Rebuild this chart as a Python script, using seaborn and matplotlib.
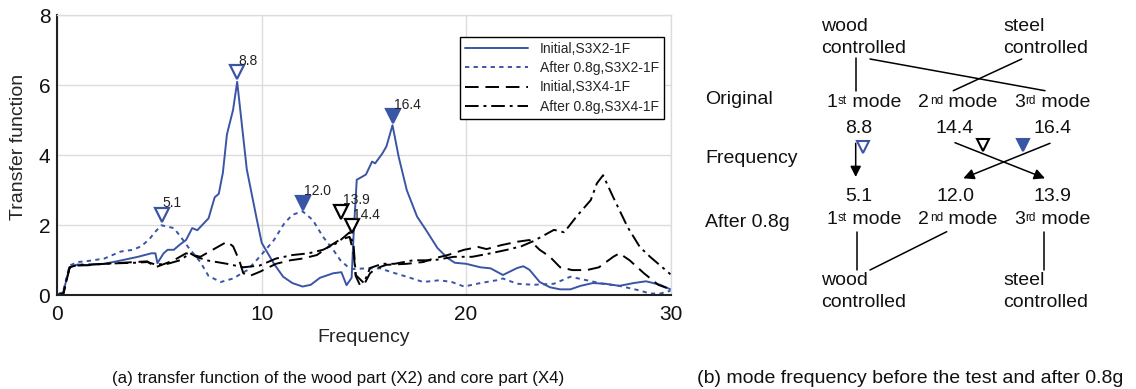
import numpy as np
import pandas as pd
import matplotlib
matplotlib.use("Agg")
import matplotlib.pyplot as plt
import seaborn as sns

# ---- transfer function curves -------------------------------------------
# Initial, S3X2-1F (wood part, before test)
freq_init_x2 = [0, 0.3, 0.6, 1.0, 1.5, 2.3, 3.15, 3.95, 4.6, 4.8, 4.9, 5.2, 5.4, 5.7,
                6.0, 6.3, 6.6, 6.85, 7.4, 7.7, 7.9, 8.1, 8.3, 8.6, 8.8, 9.27, 9.75,
                10.0, 10.6, 11.05, 11.5, 12.0, 12.4, 12.85, 13.5, 13.9, 14.15, 14.4,
                14.5, 14.65, 15.1, 15.4, 15.55, 15.9, 16.1, 16.4, 16.7, 17.1, 17.6,
                18.0, 18.6, 19.1, 19.45, 20.0, 20.7, 21.2, 21.8, 22.5, 22.8, 23.1,
                23.6, 24.1, 24.6, 25.1, 25.6, 26.2, 26.8, 27.5, 28.2, 28.8, 29.5, 30]
tf_init_x2 = [0, 0.1, 0.8, 0.88, 0.86, 0.9, 1.0, 1.1, 1.2, 1.2, 0.92, 1.2, 1.3, 1.3,
              1.45, 1.58, 1.92, 1.86, 2.2, 2.8, 2.9, 3.5, 4.6, 5.3, 6.1, 3.6, 2.2,
              1.5, 0.9, 0.53, 0.35, 0.25, 0.3, 0.5, 0.63, 0.66, 0.29, 0.5,
              1.78, 3.3, 3.45, 3.82, 3.77, 4.05, 4.25, 4.86, 3.96, 3.0, 2.25,
              1.9, 1.35, 1.06, 0.93, 0.9, 0.8, 0.77, 0.58, 0.78, 0.83, 0.73,
              0.38, 0.23, 0.17, 0.17, 0.27, 0.35, 0.33, 0.27, 0.35, 0.4, 0.3, 0.17]

# After 0.8g, S3X2-1F
freq_after_x2 = [0, 0.3, 0.6, 1.0, 1.5, 2.3, 3.1, 3.7, 4.1, 4.5, 4.8, 5.1, 5.7, 6.0,
                 6.4, 7.0, 7.4, 8.0, 8.6, 9.3, 9.9, 10.6, 11.1, 11.5, 12.0, 12.5,
                 13.0, 13.5, 13.85, 14.2, 14.5, 15.1, 15.8, 16.3, 17.1, 17.9, 18.7,
                 19.3, 19.9, 20.7, 21.5, 21.8, 22.5, 23.3, 24.3, 25.1, 25.9, 26.7,
                 27.5, 28.4, 29.0, 29.5, 30]
tf_after_x2 = [0, 0.15, 0.85, 0.95, 0.98, 1.05, 1.25, 1.3, 1.4, 1.6, 1.82, 2.0, 1.92, 1.7,
               1.38, 0.95, 0.55, 0.38, 0.48, 0.72, 1.1, 1.58, 2.05, 2.3, 2.4, 2.15,
               1.67, 1.3, 1.0, 0.82, 0.75, 0.77, 0.77, 0.67, 0.53, 0.38, 0.43,
               0.38, 0.25, 0.35, 0.43, 0.48, 0.33, 0.3, 0.33, 0.53, 0.43, 0.33,
               0.27, 0.15, 0.05, 0.05, 0.13]

# Initial, S3X4-1F (core part, before test)
freq_init_x4 = [0, 0.3, 0.6, 1.0, 1.5, 2.3, 3.2, 3.8, 4.4, 4.8, 5.25, 5.7, 6.3, 7.0,
                7.6, 8.3, 8.6, 8.9, 9.1, 9.4, 9.9, 10.7, 11.4, 12.0, 12.7, 13.3,
                13.8, 14.3, 14.5, 14.6, 14.8, 15.0, 15.3, 15.6, 16.1, 17.1, 17.9,
                18.4, 19.1, 19.9, 20.6, 21.0, 21.7, 22.5, 23.1, 23.6, 24.1, 24.6,
                25.2, 25.9, 26.5, 27.2, 27.5, 28.0, 28.7, 29.4, 30]
tf_init_x4 = [0, 0.05, 0.78, 0.85, 0.86, 0.9, 0.93, 0.95, 0.97, 0.8, 0.9, 1.0, 1.2, 1.1,
              1.3, 1.53, 1.4, 1.0, 0.63, 0.55, 0.67, 0.9, 1.0, 1.05, 1.15, 1.4,
              1.58, 1.67, 1.2, 0.55, 0.3, 0.3, 0.63, 0.77, 0.87, 0.9, 0.95,
              1.05, 1.15, 1.3, 1.38, 1.32, 1.43, 1.53, 1.58, 1.3, 1.1, 0.8,
              0.72, 0.72, 0.8, 1.1, 1.2, 1.0, 0.63, 0.3, 0.17]

# After 0.8g, S3X4-1F
freq_after_x4 = [0, 0.3, 0.6, 1.0, 1.5, 2.3, 3.2, 3.8, 4.4, 4.8, 5.4, 6.0, 6.5, 6.8,
                 7.3, 8.3, 9.1, 9.9, 10.7, 11.5, 12.3, 13.0, 13.7, 14.1, 14.3, 14.5,
                 14.6, 15.0, 15.3, 15.9, 16.5, 17.4, 18.4, 19.4, 20.3, 21.2, 22.0,
                 22.7, 23.3, 24.3, 24.8, 25.4, 26.1, 26.4, 26.7, 27.2, 27.9, 28.5,
                 29.0, 30]
tf_after_x4 = [0, 0.05, 0.8, 0.87, 0.88, 0.9, 0.92, 0.93, 0.95, 0.88, 0.9, 1.0, 1.2, 1.1,
               1.0, 0.9, 0.8, 0.85, 1.05, 1.15, 1.2, 1.3, 1.5, 1.7, 1.8, 1.4,
               0.58, 0.35, 0.78, 0.9, 0.9, 1.0, 1.0, 1.1, 1.1, 1.2, 1.3,
               1.4, 1.55, 1.87, 1.8, 2.25, 2.72, 3.2, 3.43, 2.8, 1.95, 1.38,
               1.1, 0.6]

series_names = ["Initial,S3X2-1F", "After 0.8g,S3X2-1F",
                "Initial,S3X4-1F", "After 0.8g,S3X4-1F"]

# ---- identified mode frequencies ----------------------------------------
mode_freqs = [8.8, 16.4, 14.4, 5.1, 12.0, 13.9]
mode_series = ["Initial,S3X2-1F", "Initial,S3X2-1F", "Initial,S3X4-1F",
               "After 0.8g,S3X2-1F", "After 0.8g,S3X2-1F", "After 0.8g,S3X4-1F"]
mode_filled = [False, True, False, False, True, False]
mode_blue = [True, True, False, True, True, False]
# vertical gap between each peak and its marker (data units)
mode_gap = [0.27, 0.25, 0.3, 0.3, 0.25, 0.68]

# mode table of panel (b): original order and the mode each one moves to
orig_freqs = [8.8, 14.4, 16.4]
after_freqs = [5.1, 12.0, 13.9]
orig_to_after = [0, 2, 1]
orig_marker_blue = [True, False, True]
orig_marker_filled = [False, False, True]
ordinals = [("1", "st"), ("2", "nd"), ("3", "rd")]

BLUE = "#3B55A6"

sns.set_theme(style="white")
plt.rcParams["font.family"] = ["Liberation Sans", "DejaVu Sans"]

frames = []
for name, f, v in zip(series_names,
                      [freq_init_x2, freq_after_x2, freq_init_x4, freq_after_x4],
                      [tf_init_x2, tf_after_x2, tf_init_x4, tf_after_x4]):
    frames.append(pd.DataFrame({"Frequency": f, "TF": v, "series": name}))
df = pd.concat(frames, ignore_index=True)

palette = {series_names[0]: BLUE, series_names[1]: BLUE,
           series_names[2]: "black", series_names[3]: "black"}
dashes = {series_names[0]: "", series_names[1]: (2.2, 2.2),
          series_names[2]: (7, 3.5), series_names[3]: (7, 2.5, 1.5, 2.5)}

fig = plt.figure(figsize=(11.36, 3.89), dpi=100)
ax = fig.add_axes([57.3 / 1136, 1 - 295.3 / 389, 613.2 / 1136, 280 / 389])

sns.lineplot(data=df, x="Frequency", y="TF", hue="series", style="series",
             hue_order=series_names, style_order=series_names,
             palette=palette, dashes=dashes, estimator=None, sort=False,
             linewidth=1.4, ax=ax)

ax.set_xlim(0, 30)
ax.set_ylim(0, 8)
ax.set_xticks([0, 10, 20, 30])
ax.set_yticks([0, 2, 4, 6, 8])
ax.grid(True, color="#dcdcdc", linewidth=1.0)
ax.set_axisbelow(True)
for side in ["top", "right"]:
    ax.spines[side].set_color("#dcdcdc")
    ax.spines[side].set_linewidth(1.0)
for side in ["left", "bottom"]:
    ax.spines[side].set_color("#222222")
    ax.spines[side].set_linewidth(1.5)
ax.tick_params(axis="both", length=0, labelsize=15, colors="#111111")
ax.tick_params(axis="x", pad=7)
ax.tick_params(axis="y", pad=5)

ax.set_xlabel("Frequency", fontsize=14)
ax.xaxis.label.set_va("center")
ax.xaxis.set_label_coords(0.5, (295.3 - 338) / 280)
ax.set_ylabel("Transfer function", fontsize=14)
ax.yaxis.label.set_va("center")
ax.yaxis.set_label_coords((18.5 - 57.3) / 613.2, 0.53)

# mode markers above the peaks
curves = {n: (np.asarray(f), np.asarray(v)) for n, f, v in zip(
    series_names,
    [freq_init_x2, freq_after_x2, freq_init_x4, freq_after_x4],
    [tf_init_x2, tf_after_x2, tf_init_x4, tf_after_x4])}
for fq, sname, filled, blue, gap in zip(mode_freqs, mode_series, mode_filled,
                                        mode_blue, mode_gap):
    fx, fv = curves[sname]
    near = np.abs(fx - fq) <= 0.35
    top = fv[near].max() if near.any() else np.interp(fq, fx, fv)
    ym = top + gap
    col = BLUE if blue else "black"
    ax.plot([fq], [ym], marker="v", ms=10, mew=1.6, mec=col,
            mfc=col if filled else "white", linestyle="none", zorder=5)
    ax.annotate(f"{fq:.1f}", (fq, ym), xytext=(1, 8.5), textcoords="offset points",
                ha="left", va="center", fontsize=10, color="#222222", zorder=7)

handles, labels = ax.get_legend_handles_labels()
leg = ax.legend(handles, labels, loc="upper right",
                bbox_to_anchor=((664 - 57.3) / 613.2, (295.3 - 37) / 280),
                fontsize=10, frameon=True, fancybox=False, edgecolor="black",
                framealpha=1, handlelength=4.5, handletextpad=0.9,
                labelspacing=0.38, borderpad=0.35, borderaxespad=0)
leg.get_frame().set_linewidth(1.0)

fig.text(338 / 1136, 1 - 382.7 / 389,
         "(a) transfer function of the wood part (X2) and core part (X4)",
         ha="center", va="baseline", fontsize=12.2, color="#111111")

# ---- panel (b): mode frequency diagram ------------------------------------
axb = fig.add_axes([690 / 1136, 0, 446 / 1136, 1])
axb.set_xlim(690, 1136)
axb.set_ylim(389, 0)
axb.axis("off")

fs = 14
tc = "#111111"
col_x = [858.3, 955.0, 1052.3]
mode_x = [826, 918, 1014]


def mode_label(x, baseline, digit, suffix):
    """Ordinal with a small raised suffix followed by ' mode'."""
    t1 = axb.text(x, baseline, digit, fontsize=fs, va="baseline", color=tc)
    t2 = axb.annotate(suffix, xy=(1, 0.93), xycoords=t1, xytext=(0.6, 0),
                      textcoords="offset points", ha="left", va="top",
                      fontsize=8.5, color=tc)
    axb.annotate(" mode", xy=(1, baseline), xycoords=(t2, "data"),
                 ha="left", va="baseline", fontsize=fs, color=tc)


for xx, word in [(821, "wood"), (1003.3, "steel")]:
    axb.text(xx, 30.7, word, fontsize=fs, va="baseline", color=tc)
    axb.text(xx, 52.7, "controlled", fontsize=fs, va="baseline", color=tc)
    axb.text(xx, 285, word, fontsize=fs, va="baseline", color=tc)
    axb.text(xx, 306.7, "controlled", fontsize=fs, va="baseline", color=tc)

axb.text(705, 104.3, "Original", fontsize=fs, va="baseline", color=tc)
axb.text(705, 163.3, "Frequency", fontsize=fs, va="baseline", color=tc)
axb.text(705, 226.7, "After 0.8g", fontsize=fs, va="baseline", color=tc)

for i in range(3):
    mode_label(mode_x[i], 106.7, *ordinals[i])
    mode_label(mode_x[i], 224.0, *ordinals[i])
    axb.text(col_x[i], 132.7, f"{orig_freqs[i]:.1f}", fontsize=fs, ha="center",
             va="baseline", color=tc)
    axb.text(col_x[i], 201.0, f"{after_freqs[i]:.1f}", fontsize=fs, ha="center",
             va="baseline", color=tc)

# connecting lines: controlling part of each mode
lk = dict(color="black", linewidth=1.1)
axb.plot([855.7, 855.7], [58.3, 90.7], **lk)
axb.plot([870, 1045], [59, 90.7], **lk)
axb.plot([1021.7, 953.3], [59, 90.7], **lk)
axb.plot([857.3, 857.3], [231.7, 270], **lk)
axb.plot([946.7, 870], [231.7, 270], **lk)
axb.plot([1044.3, 1044.3], [231.7, 270], **lk)

# arrows from original to post-test modes
starts = [(855.7, 143.3), (955, 142.7), (1050, 143.3)]
arrow_end_x = [855.7, 963.3, 1045]
for i, j in enumerate(orig_to_after):
    sx, sy = starts[i]
    axb.annotate("", xy=(arrow_end_x[j], 178.3 if i else 177), xytext=(sx, sy),
                 arrowprops=dict(arrowstyle="-|>", color="black", lw=1.1,
                                 mutation_scale=16, shrinkA=0, shrinkB=0))

marker_pos = [(863.3, 146.7), (983.3, 145), (1023.3, 145)]
for (mx, my), blue, filled in zip(marker_pos, orig_marker_blue, orig_marker_filled):
    col = BLUE if blue else "black"
    axb.plot([mx], [my], marker="v", ms=9, mew=1.5, mec=col,
             mfc=col if filled else "white", linestyle="none")

axb.text(696.7, 382.7, "(b) mode frequency before the test and after 0.8g",
         fontsize=14, va="baseline", color=tc)

fig.savefig("out.png", dpi=100)
